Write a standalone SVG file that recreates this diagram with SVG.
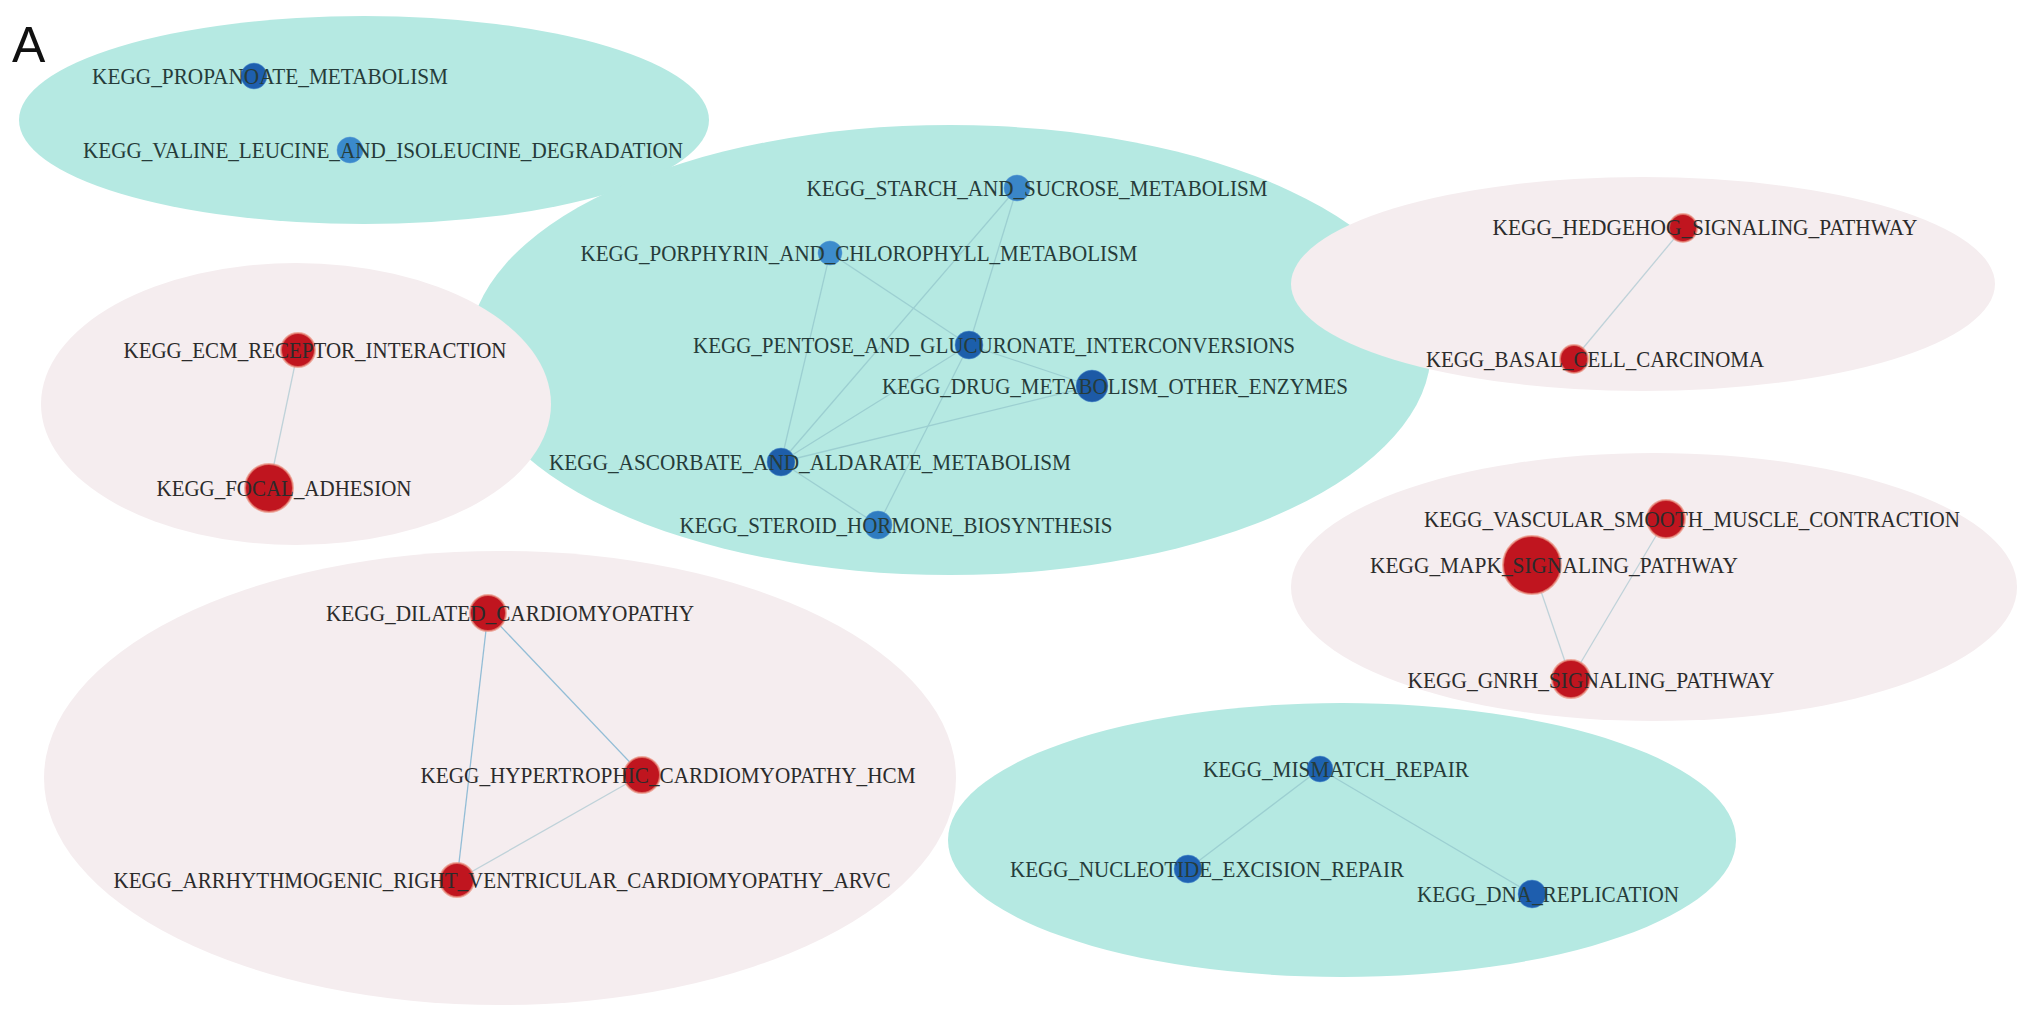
<svg xmlns="http://www.w3.org/2000/svg" width="2031" height="1018" viewBox="0 0 2031 1018">
<style>
.teal{fill:#b5e9e2}
.pink{fill:#f5edef}
.lbl{font-family:"Liberation Serif","Times New Roman",serif;font-size:23px;fill:#2b2b2b;text-anchor:middle}
.tl{fill:#263c3a}
.red{fill:#c0151f;stroke:#ea8f7e;stroke-width:2;stroke-opacity:0.7}
.blue{stroke:#5a9ad6;stroke-width:1;stroke-opacity:0.5}
.e{stroke-width:1.3;fill:none}
.et{stroke:#9ccfd1}
.ep{stroke:#bfd2d9}
.ec{stroke:#93bdd6}
</style>
<rect width="2031" height="1018" fill="#ffffff"/>
<g id="groups">
<ellipse class="teal" cx="364" cy="120" rx="345" ry="104"/>
<ellipse class="teal" cx="950" cy="350" rx="481" ry="225"/>
<ellipse class="pink" cx="296" cy="404" rx="255" ry="141"/>
<ellipse class="pink" cx="1643" cy="284" rx="352" ry="107"/>
<ellipse class="pink" cx="1654" cy="587" rx="363" ry="134"/>
<ellipse class="pink" cx="500" cy="778" rx="456" ry="227"/>
<ellipse class="teal" cx="1342" cy="840" rx="394" ry="137"/>
</g>
<text x="12" y="62" font-family="Liberation Sans, Arial, sans-serif" font-size="50" fill="#111">A</text>
<g id="connectors">
<line class="e ep" x1="298" y1="350" x2="269" y2="488"/>
<line class="e ep" x1="1683" y1="228" x2="1574" y2="359"/>
<line class="e ep" x1="1532" y1="565" x2="1571" y2="679"/>
<line class="e ep" x1="1666" y1="519" x2="1571" y2="679"/>
<line class="e ec" x1="488" y1="613" x2="642" y2="775"/>
<line class="e ec" x1="488" y1="613" x2="457" y2="880"/>
<line class="e ep" x1="642" y1="775" x2="457" y2="880"/>
<line class="e et" x1="1320" y1="769" x2="1188" y2="869"/>
<line class="e et" x1="1320" y1="769" x2="1532" y2="894"/>
<line class="e et" x1="830" y1="253" x2="781" y2="462"/>
<line class="e et" x1="830" y1="253" x2="969" y2="345"/>
<line class="e et" x1="1017" y1="188" x2="781" y2="462"/>
<line class="e et" x1="1017" y1="188" x2="969" y2="345"/>
<line class="e et" x1="969" y1="345" x2="1092" y2="386"/>
<line class="e et" x1="969" y1="345" x2="781" y2="462"/>
<line class="e et" x1="1092" y1="386" x2="781" y2="462"/>
<line class="e et" x1="969" y1="345" x2="878" y2="525"/>
<line class="e et" x1="781" y1="462" x2="878" y2="525"/>
</g>
<g id="n-propanoate"><circle class="blue" cx="254" cy="76" r="13" fill="#1e5fae"/><text class="lbl tl" x="270" y="84" textLength="356" lengthAdjust="spacingAndGlyphs">KEGG_PROPANOATE_METABOLISM</text></g>
<g id="n-valine"><circle class="blue" cx="350" cy="150" r="13" fill="#3a8acc"/><text class="lbl tl" x="383" y="158" textLength="600" lengthAdjust="spacingAndGlyphs">KEGG_VALINE_LEUCINE_AND_ISOLEUCINE_DEGRADATION</text></g>
<g id="n-starch"><circle class="blue" cx="1017" cy="188" r="13" fill="#3a86c8"/><text class="lbl tl" x="1037" y="196" textLength="461" lengthAdjust="spacingAndGlyphs">KEGG_STARCH_AND_SUCROSE_METABOLISM</text></g>
<g id="n-porphyrin"><circle class="blue" cx="830" cy="253" r="12" fill="#3d8ccc"/><text class="lbl tl" x="859" y="261" textLength="557" lengthAdjust="spacingAndGlyphs">KEGG_PORPHYRIN_AND_CHLOROPHYLL_METABOLISM</text></g>
<g id="n-pentose"><circle class="blue" cx="969" cy="345" r="14" fill="#1c5fab"/><text class="lbl tl" x="994" y="353" textLength="602" lengthAdjust="spacingAndGlyphs">KEGG_PENTOSE_AND_GLUCURONATE_INTERCONVERSIONS</text></g>
<g id="n-drug"><circle class="blue" cx="1092" cy="386" r="16" fill="#1d5aa6"/><text class="lbl tl" x="1115" y="394" textLength="466" lengthAdjust="spacingAndGlyphs">KEGG_DRUG_METABOLISM_OTHER_ENZYMES</text></g>
<g id="n-ascorbate"><circle class="blue" cx="781" cy="462" r="14" fill="#1e5ea9"/><text class="lbl tl" x="810" y="470" textLength="522" lengthAdjust="spacingAndGlyphs">KEGG_ASCORBATE_AND_ALDARATE_METABOLISM</text></g>
<g id="n-steroid"><circle class="blue" cx="878" cy="525" r="14" fill="#2f7cc0"/><text class="lbl tl" x="896" y="533" textLength="433" lengthAdjust="spacingAndGlyphs">KEGG_STEROID_HORMONE_BIOSYNTHESIS</text></g>
<g id="n-hedgehog"><circle class="red" cx="1683" cy="228" r="14"/><text class="lbl" x="1705" y="235" textLength="425" lengthAdjust="spacingAndGlyphs">KEGG_HEDGEHOG_SIGNALING_PATHWAY</text></g>
<g id="n-basal"><circle class="red" cx="1574" cy="359" r="14"/><text class="lbl" x="1595" y="367" textLength="338" lengthAdjust="spacingAndGlyphs">KEGG_BASAL_CELL_CARCINOMA</text></g>
<g id="n-vascular"><circle class="red" cx="1666" cy="519" r="19"/><text class="lbl" x="1692" y="527" textLength="536" lengthAdjust="spacingAndGlyphs">KEGG_VASCULAR_SMOOTH_MUSCLE_CONTRACTION</text></g>
<g id="n-mapk"><circle class="red" cx="1532" cy="565" r="29"/><text class="lbl" x="1554" y="573" textLength="368" lengthAdjust="spacingAndGlyphs">KEGG_MAPK_SIGNALING_PATHWAY</text></g>
<g id="n-gnrh"><circle class="red" cx="1571" cy="679" r="19"/><text class="lbl" x="1591" y="688" textLength="367" lengthAdjust="spacingAndGlyphs">KEGG_GNRH_SIGNALING_PATHWAY</text></g>
<g id="n-ecm"><circle class="red" cx="298" cy="350" r="17"/><text class="lbl" x="315" y="358" textLength="383" lengthAdjust="spacingAndGlyphs">KEGG_ECM_RECEPTOR_INTERACTION</text></g>
<g id="n-focal"><circle class="red" cx="269" cy="488" r="24"/><text class="lbl" x="284" y="496" textLength="255" lengthAdjust="spacingAndGlyphs">KEGG_FOCAL_ADHESION</text></g>
<g id="n-dilated"><circle class="red" cx="488" cy="613" r="18"/><text class="lbl" x="510" y="621" textLength="368" lengthAdjust="spacingAndGlyphs">KEGG_DILATED_CARDIOMYOPATHY</text></g>
<g id="n-hcm"><circle class="red" cx="642" cy="775" r="18"/><text class="lbl" x="668" y="783" textLength="495" lengthAdjust="spacingAndGlyphs">KEGG_HYPERTROPHIC_CARDIOMYOPATHY_HCM</text></g>
<g id="n-arvc"><circle class="red" cx="457" cy="880" r="17"/><text class="lbl" x="502" y="888" textLength="777" lengthAdjust="spacingAndGlyphs">KEGG_ARRHYTHMOGENIC_RIGHT_VENTRICULAR_CARDIOMYOPATHY_ARVC</text></g>
<g id="n-mismatch"><circle class="blue" cx="1320" cy="769" r="13" fill="#1e62b0"/><text class="lbl tl" x="1336" y="777" textLength="266" lengthAdjust="spacingAndGlyphs">KEGG_MISMATCH_REPAIR</text></g>
<g id="n-nucleotide"><circle class="blue" cx="1188" cy="869" r="14" fill="#1f62b2"/><text class="lbl tl" x="1207" y="877" textLength="394" lengthAdjust="spacingAndGlyphs">KEGG_NUCLEOTIDE_EXCISION_REPAIR</text></g>
<g id="n-dna"><circle class="blue" cx="1532" cy="894" r="14" fill="#1e5eae"/><text class="lbl tl" x="1548" y="902" textLength="262" lengthAdjust="spacingAndGlyphs">KEGG_DNA_REPLICATION</text></g>
</svg>
